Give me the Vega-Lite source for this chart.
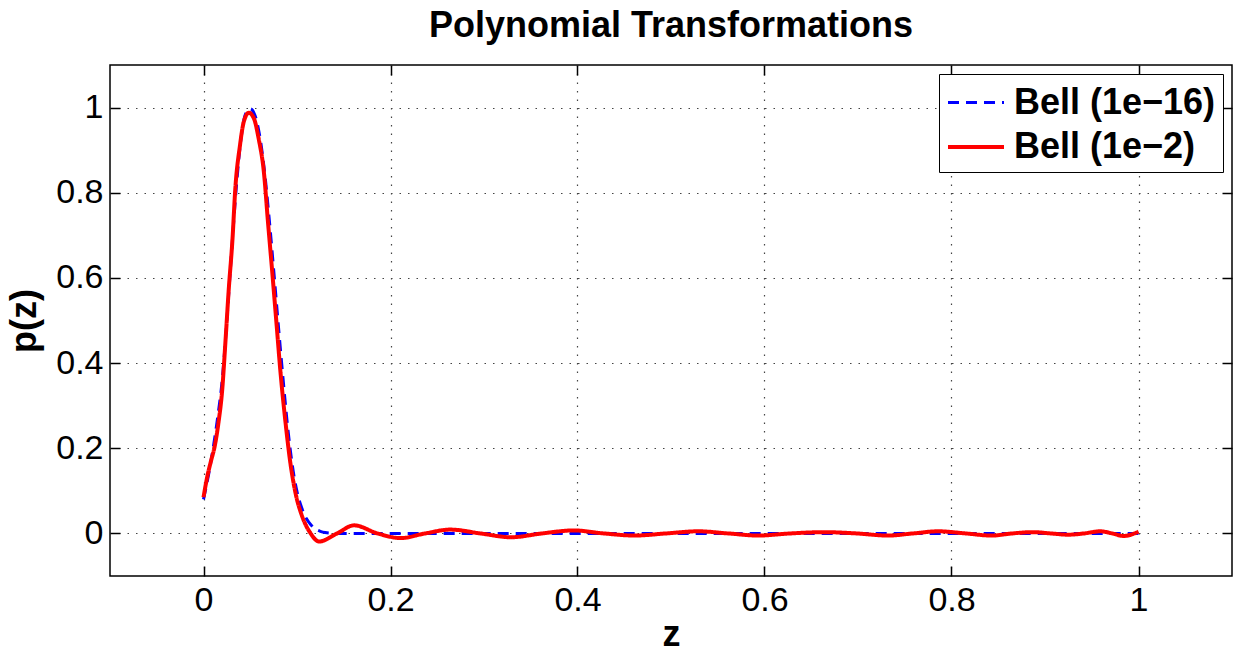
{
  "$schema": "https://vega.github.io/schema/vega-lite/v6.json",
  "width": 1122,
  "height": 511,
  "autosize": {"type": "none"},
  "padding": {"left": 110, "top": 65, "right": 4, "bottom": 77},
  "background": "white",
  "config": {
    "font": "Liberation Sans",
    "view": {"stroke": "black", "strokeWidth": 1.5}
  },
  "title": {
    "text": "Polynomial Transformations",
    "fontSize": 36,
    "fontWeight": "bold",
    "font": "Liberation Sans",
    "color": "black",
    "anchor": "middle",
    "baseline": "alphabetic",
    "offset": -9
  },
  "data": {
    "values": [
      {"s": "Bell (1e−16)", "z": 0.0, "p": 0.08},
      {"s": "Bell (1e−16)", "z": 0.006, "p": 0.145},
      {"s": "Bell (1e−16)", "z": 0.011, "p": 0.21},
      {"s": "Bell (1e−16)", "z": 0.015, "p": 0.27},
      {"s": "Bell (1e−16)", "z": 0.02, "p": 0.36},
      {"s": "Bell (1e−16)", "z": 0.025, "p": 0.5},
      {"s": "Bell (1e−16)", "z": 0.03, "p": 0.66},
      {"s": "Bell (1e−16)", "z": 0.035, "p": 0.81},
      {"s": "Bell (1e−16)", "z": 0.04, "p": 0.925},
      {"s": "Bell (1e−16)", "z": 0.045, "p": 0.985},
      {"s": "Bell (1e−16)", "z": 0.05, "p": 0.997},
      {"s": "Bell (1e−16)", "z": 0.055, "p": 0.982},
      {"s": "Bell (1e−16)", "z": 0.06, "p": 0.935},
      {"s": "Bell (1e−16)", "z": 0.065, "p": 0.855},
      {"s": "Bell (1e−16)", "z": 0.07, "p": 0.745},
      {"s": "Bell (1e−16)", "z": 0.075, "p": 0.62},
      {"s": "Bell (1e−16)", "z": 0.08, "p": 0.49},
      {"s": "Bell (1e−16)", "z": 0.085, "p": 0.365},
      {"s": "Bell (1e−16)", "z": 0.09, "p": 0.25},
      {"s": "Bell (1e−16)", "z": 0.095, "p": 0.16},
      {"s": "Bell (1e−16)", "z": 0.1, "p": 0.098},
      {"s": "Bell (1e−16)", "z": 0.105, "p": 0.06},
      {"s": "Bell (1e−16)", "z": 0.11, "p": 0.035},
      {"s": "Bell (1e−16)", "z": 0.115, "p": 0.02},
      {"s": "Bell (1e−16)", "z": 0.12, "p": 0.01},
      {"s": "Bell (1e−16)", "z": 0.125, "p": 0.005},
      {"s": "Bell (1e−16)", "z": 0.13, "p": 0.002},
      {"s": "Bell (1e−16)", "z": 0.14, "p": 0.0},
      {"s": "Bell (1e−16)", "z": 0.2, "p": 0.0},
      {"s": "Bell (1e−16)", "z": 0.4, "p": 0.0},
      {"s": "Bell (1e−16)", "z": 0.6, "p": 0.0},
      {"s": "Bell (1e−16)", "z": 0.8, "p": 0.0},
      {"s": "Bell (1e−16)", "z": 1.0, "p": 0.0},
      {"s": "Bell (1e−2)", "z": 0.0, "p": 0.085},
      {"s": "Bell (1e−2)", "z": 0.004, "p": 0.133},
      {"s": "Bell (1e−2)", "z": 0.008, "p": 0.17},
      {"s": "Bell (1e−2)", "z": 0.012, "p": 0.205},
      {"s": "Bell (1e−2)", "z": 0.016, "p": 0.26},
      {"s": "Bell (1e−2)", "z": 0.02, "p": 0.337},
      {"s": "Bell (1e−2)", "z": 0.0236, "p": 0.455},
      {"s": "Bell (1e−2)", "z": 0.027, "p": 0.573},
      {"s": "Bell (1e−2)", "z": 0.031, "p": 0.691},
      {"s": "Bell (1e−2)", "z": 0.034, "p": 0.809},
      {"s": "Bell (1e−2)", "z": 0.039, "p": 0.911},
      {"s": "Bell (1e−2)", "z": 0.043, "p": 0.966},
      {"s": "Bell (1e−2)", "z": 0.0485, "p": 0.988},
      {"s": "Bell (1e−2)", "z": 0.054, "p": 0.974},
      {"s": "Bell (1e−2)", "z": 0.059, "p": 0.927},
      {"s": "Bell (1e−2)", "z": 0.0646, "p": 0.848},
      {"s": "Bell (1e−2)", "z": 0.069, "p": 0.73},
      {"s": "Bell (1e−2)", "z": 0.0736, "p": 0.612},
      {"s": "Bell (1e−2)", "z": 0.078, "p": 0.495},
      {"s": "Bell (1e−2)", "z": 0.0824, "p": 0.377},
      {"s": "Bell (1e−2)", "z": 0.0878, "p": 0.259},
      {"s": "Bell (1e−2)", "z": 0.093, "p": 0.164},
      {"s": "Bell (1e−2)", "z": 0.0985, "p": 0.094},
      {"s": "Bell (1e−2)", "z": 0.1057, "p": 0.039},
      {"s": "Bell (1e−2)", "z": 0.1146, "p": 0.0},
      {"s": "Bell (1e−2)", "z": 0.1235, "p": -0.019},
      {"s": "Bell (1e−2)", "z": 0.143, "p": 0.0},
      {"s": "Bell (1e−2)", "z": 0.161, "p": 0.019},
      {"s": "Bell (1e−2)", "z": 0.186, "p": 0.0},
      {"s": "Bell (1e−2)", "z": 0.211, "p": -0.011},
      {"s": "Bell (1e−2)", "z": 0.237, "p": 0.0},
      {"s": "Bell (1e−2)", "z": 0.264, "p": 0.009},
      {"s": "Bell (1e−2)", "z": 0.296, "p": 0.0},
      {"s": "Bell (1e−2)", "z": 0.329, "p": -0.009},
      {"s": "Bell (1e−2)", "z": 0.362, "p": 0.0},
      {"s": "Bell (1e−2)", "z": 0.396, "p": 0.007},
      {"s": "Bell (1e−2)", "z": 0.428, "p": 0.0},
      {"s": "Bell (1e−2)", "z": 0.461, "p": -0.005},
      {"s": "Bell (1e−2)", "z": 0.495, "p": 0.0},
      {"s": "Bell (1e−2)", "z": 0.529, "p": 0.005},
      {"s": "Bell (1e−2)", "z": 0.561, "p": 0.0},
      {"s": "Bell (1e−2)", "z": 0.593, "p": -0.005},
      {"s": "Bell (1e−2)", "z": 0.628, "p": 0.0},
      {"s": "Bell (1e−2)", "z": 0.664, "p": 0.003},
      {"s": "Bell (1e−2)", "z": 0.698, "p": 0.0},
      {"s": "Bell (1e−2)", "z": 0.732, "p": -0.005},
      {"s": "Bell (1e−2)", "z": 0.759, "p": 0.0},
      {"s": "Bell (1e−2)", "z": 0.786, "p": 0.005},
      {"s": "Bell (1e−2)", "z": 0.815, "p": 0.0},
      {"s": "Bell (1e−2)", "z": 0.843, "p": -0.005},
      {"s": "Bell (1e−2)", "z": 0.865, "p": 0.0},
      {"s": "Bell (1e−2)", "z": 0.887, "p": 0.003},
      {"s": "Bell (1e−2)", "z": 0.906, "p": 0.0},
      {"s": "Bell (1e−2)", "z": 0.925, "p": -0.003},
      {"s": "Bell (1e−2)", "z": 0.942, "p": 0.0},
      {"s": "Bell (1e−2)", "z": 0.959, "p": 0.005},
      {"s": "Bell (1e−2)", "z": 0.972, "p": 0.0},
      {"s": "Bell (1e−2)", "z": 0.984, "p": -0.006},
      {"s": "Bell (1e−2)", "z": 1.0, "p": 0.004}
    ]
  },
  "resolve": {"axis": {"x": "independent", "y": "independent"}},
  "layer": [
    {
      "mark": {"type": "line", "interpolate": "monotone", "clip": true},
      "encoding": {
        "x": {
          "field": "z", "type": "quantitative",
          "scale": {"domain": [-0.1, 1.1], "nice": false, "zero": false},
          "axis": {
            "orient": "bottom",
            "values": [0, 0.2, 0.4, 0.6, 0.8, 1],
            "format": "~g",
            "title": "z",
            "titleFontSize": 36, "titleFontWeight": "bold", "titleColor": "black",
            "titlePadding": 0,
            "labelFontSize": 34, "labelColor": "black", "labelPadding": 17,
            "tickSize": -10, "tickColor": "black", "tickWidth": 1.5,
            "domain": false,
            "grid": true, "gridDash": [1.5, 7], "gridColor": "#444", "gridWidth": 1.2
          }
        },
        "y": {
          "field": "p", "type": "quantitative",
          "scale": {"domain": [-0.1, 1.1], "nice": false, "zero": false},
          "axis": {
            "orient": "left",
            "values": [0, 0.2, 0.4, 0.6, 0.8, 1],
            "format": "~g",
            "title": "p(z)",
            "titleFontSize": 36, "titleFontWeight": "bold", "titleColor": "black",
            "titlePadding": 12,
            "labelFontSize": 34, "labelColor": "black", "labelPadding": 17,
            "tickSize": -10, "tickColor": "black", "tickWidth": 1.5,
            "domain": false,
            "grid": true, "gridDash": [1.5, 7], "gridColor": "#444", "gridWidth": 1.2
          }
        },
        "color": {
          "field": "s", "type": "nominal",
          "scale": {"domain": ["Bell (1e−16)", "Bell (1e−2)"], "range": ["#0000ff", "#ff0000"]},
          "legend": {
            "title": null,
            "orient": "top-right",
            "offset": 9,
            "fillColor": "white",
            "strokeColor": "black",
            "padding": 7,
            "labelFontSize": 36,
            "labelFontWeight": "bold",
            "labelColor": "black",
            "labelOffset": 24,
            "labelLimit": 400,
            "symbolType": "M-1,0H1.8",
            "symbolSize": 1600,
            "symbolStrokeWidth": 3.5,
            "rowPadding": 4
          }
        },
        "strokeDash": {
          "field": "s", "type": "nominal",
          "scale": {"domain": ["Bell (1e−16)", "Bell (1e−2)"], "range": [[11, 7], [1, 0]]}
        },
        "strokeWidth": {
          "field": "s", "type": "nominal",
          "scale": {"domain": ["Bell (1e−16)", "Bell (1e−2)"], "range": [3, 4]}
        }
      }
    },
    {
      "mark": {"type": "line", "strokeOpacity": 0},
      "encoding": {
        "x": {
          "field": "z", "type": "quantitative",
          "scale": {"domain": [-0.1, 1.1], "nice": false, "zero": false},
          "axis": {
            "orient": "top", "values": [0, 0.2, 0.4, 0.6, 0.8, 1],
            "labels": false, "title": null, "domain": false, "grid": false,
            "tickSize": -10, "tickColor": "black", "tickWidth": 1.5
          }
        },
        "y": {
          "field": "p", "type": "quantitative",
          "scale": {"domain": [-0.1, 1.1], "nice": false, "zero": false},
          "axis": {
            "orient": "right", "values": [0, 0.2, 0.4, 0.6, 0.8, 1],
            "labels": false, "title": null, "domain": false, "grid": false,
            "tickSize": -10, "tickColor": "black", "tickWidth": 1.5
          }
        }
      }
    }
  ]
}
